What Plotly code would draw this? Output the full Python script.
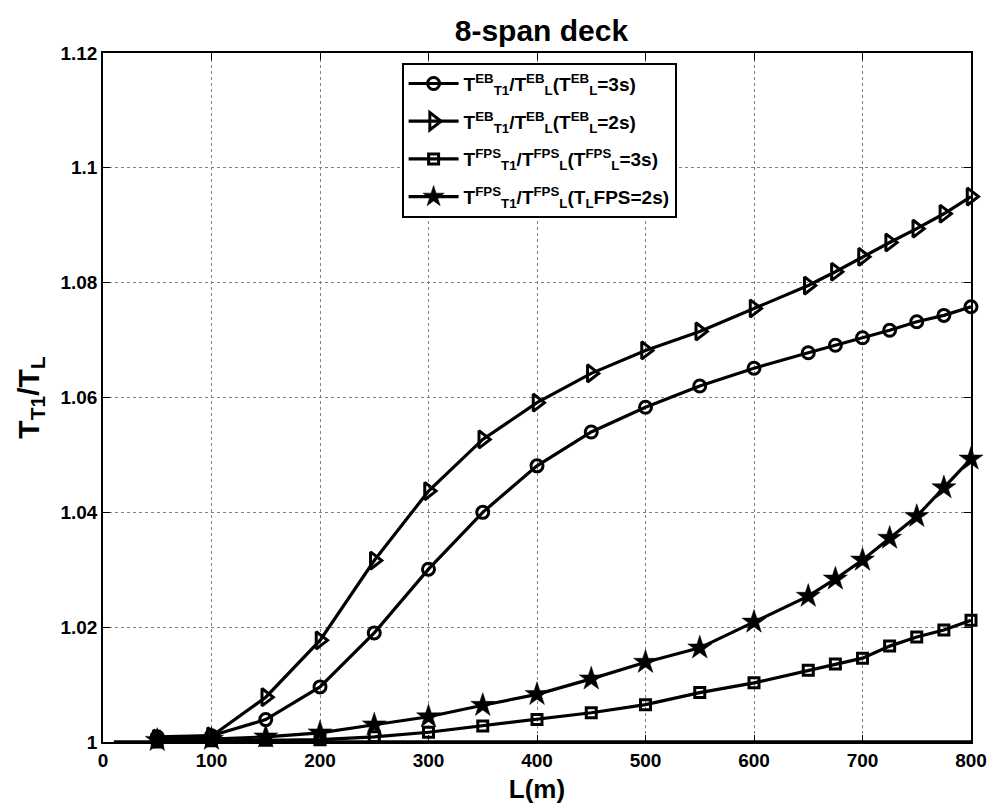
import plotly.graph_objects as go

L = [50, 100, 150, 200, 250, 300, 350, 400, 450, 500, 550, 600, 650, 675, 700, 725, 750, 775, 800]

eb_3s = [1.0009, 1.0011, 1.0039, 1.0096, 1.0190, 1.0301, 1.0400, 1.0481, 1.0540, 1.0583, 1.0620,
         1.0651, 1.0678, 1.0691, 1.0704, 1.0717, 1.0732, 1.0743, 1.0758]
eb_2s = [1.0006, 1.0010, 1.0078, 1.0177, 1.0316, 1.0437, 1.0527, 1.0591, 1.0642, 1.0682, 1.0715,
         1.0755, 1.0795, 1.0819, 1.0845, 1.0870, 1.0894, 1.0920, 1.0950]
fps_3s = [1.0000, 1.0002, 1.0003, 1.0004, 1.0009, 1.0017, 1.0028, 1.0039, 1.0051, 1.0065, 1.0086,
          1.0103, 1.0125, 1.0136, 1.0146, 1.0167, 1.0183, 1.0195, 1.0212]
fps_2s = [1.0003, 1.0005, 1.0009, 1.0016, 1.0030, 1.0044, 1.0064, 1.0083, 1.0110, 1.0139, 1.0164,
          1.0209, 1.0254, 1.0284, 1.0317, 1.0355, 1.0393, 1.0443, 1.0493]

baseline_x = [10, 800]
baseline_y = [1.0, 1.0]

names = [
    "T<sup>EB</sup><sub>T1</sub>/T<sup>EB</sup><sub>L</sub>(T<sup>EB</sup><sub>L</sub>=3s)",
    "T<sup>EB</sup><sub>T1</sub>/T<sup>EB</sup><sub>L</sub>(T<sup>EB</sup><sub>L</sub>=2s)",
    "T<sup>FPS</sup><sub>T1</sub>/T<sup>FPS</sup><sub>L</sub>(T<sup>FPS</sup><sub>L</sub>=3s)",
    "T<sup>FPS</sup><sub>T1</sub>/T<sup>FPS</sup><sub>L</sub>(T<sub>L</sub>FPS=2s)",
]

x_ticks = [0, 100, 200, 300, 400, 500, 600, 700, 800]
y_ticks = [1.0, 1.02, 1.04, 1.06, 1.08, 1.1, 1.12]
y_ticktext = ["1", "1.02", "1.04", "1.06", "1.08", "1.1", "1.12"]

FONT = "Liberation Sans, Arial"

fig = go.Figure()

fig.add_trace(go.Scatter(x=baseline_x, y=baseline_y, mode="lines",
                         line=dict(color="black", width=3.5), showlegend=False,
                         hoverinfo="skip", cliponaxis=False))

series = [
    (eb_3s, names[0], dict(symbol="circle-open", size=12, line=dict(width=3, color="black"))),
    (eb_2s, names[1], dict(symbol="triangle-right-open", size=15, line=dict(width=3, color="black"))),
    (fps_3s, names[2], dict(symbol="square-open", size=10, line=dict(width=3, color="black"))),
    (fps_2s, names[3], dict(symbol="star", size=18, color="black", line=dict(width=0.5, color="black"))),
]
for i, (ys, nm, mk) in enumerate(series):
    fig.add_trace(go.Scatter(x=L, y=ys, name=nm, mode="lines+markers",
                             legendgroup=f"g{i}",
                             line=dict(color="black", width=3.2), marker=mk,
                             cliponaxis=False))

axis_common = dict(
    showline=True, linecolor="black", linewidth=1.5, mirror="ticks",
    ticks="inside", ticklen=7, tickcolor="black", tickwidth=1,
    showgrid=True, gridcolor="#7f7f7f", griddash="dot", gridwidth=1,
    zeroline=False,
    tickfont=dict(family=FONT, size=19, color="black", weight="bold"),
)

fig.update_layout(
    width=999, height=811,
    paper_bgcolor="white", plot_bgcolor="white",
    margin=dict(l=103, r=21, t=53, b=68),
    title=dict(text="8-span deck", x=0.542, xanchor="center", y=0.963, yanchor="middle",
               font=dict(family=FONT, size=30, color="black", weight="bold")),
    xaxis=dict(range=[0, 800], tickvals=x_ticks, ticktext=[str(v) for v in x_ticks],
               title=dict(text="L(m)", standoff=10,
                          font=dict(family=FONT, size=26, color="black", weight="bold")),
               **axis_common),
    yaxis=dict(range=[1.0, 1.12], tickvals=y_ticks, ticktext=y_ticktext,
               title=dict(text="T<sub>T1</sub>/T<sub>L</sub>", standoff=12,
                          font=dict(family=FONT, size=30, color="black", weight="bold")),
               **axis_common),
    legend=dict(x=0.344, y=0.986, xanchor="left", yanchor="top",
                bgcolor="white", bordercolor="black", borderwidth=2,
                font=dict(family=FONT, size=19, color="black", weight="bold"),
                traceorder="grouped", tracegroupgap=10, itemwidth=50),
)

fig.write_html("out.html")
